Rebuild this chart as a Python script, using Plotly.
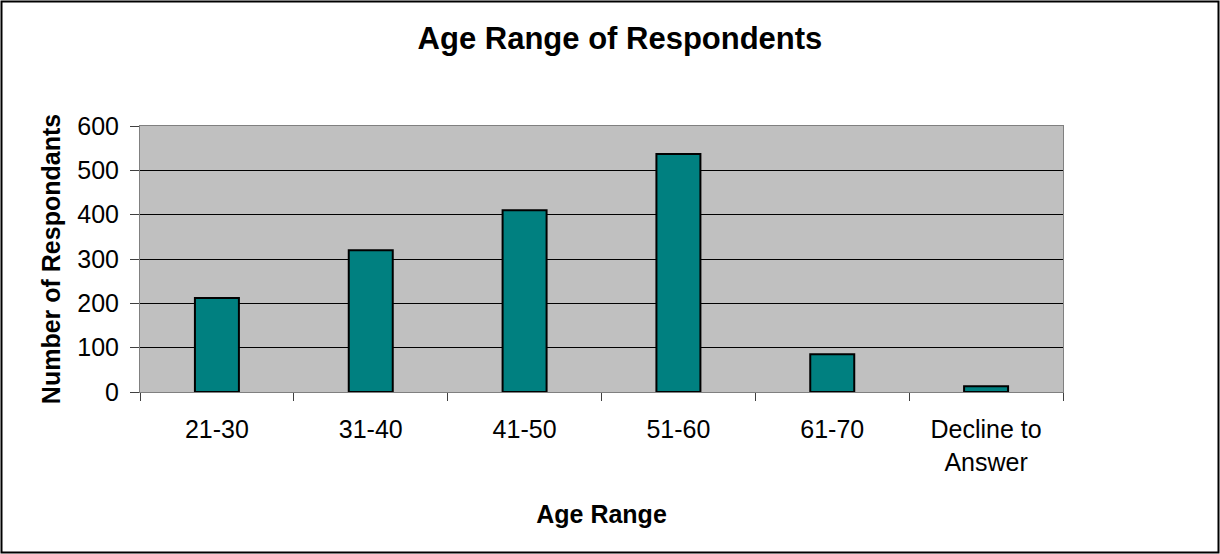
import plotly.graph_objects as go

categories = ["21-30", "31-40", "41-50", "51-60", "61-70", "Decline to<br>Answer"]
respondents = [212, 320, 410, 537, 85, 13]
y_ticks = [0, 100, 200, 300, 400, 500, 600]

W, H = 1220, 554
ML, MR, MT, MB = 140, 157, 126, 162
FONT = "Liberation Sans, Arial, sans-serif"

fig = go.Figure(go.Bar(
    x=categories, y=respondents,
    marker=dict(color="#008080", line=dict(color="#000000", width=2)),
))

pw = W - ML - MR
ph = H - MT - MB
fig.add_shape(type="rect", xref="paper", yref="paper",
              x0=(1.5 - ML) / pw, x1=(W - 1.5 - ML) / pw,
              y0=-(H - 1.5 - MT - ph) / ph, y1=1 + (MT - 1.5) / ph,
              line=dict(color="#000000", width=2), layer="below")

fig.update_layout(
    width=W, height=H,
    margin=dict(l=ML, r=MR, t=MT, b=MB, pad=0),
    paper_bgcolor="#FFFFFF", plot_bgcolor="#C0C0C0",
    font=dict(family=FONT, size=25, color="#000000"),
    showlegend=False,
    bargap=0.714,
    title=dict(text="<b>Age Range of Respondents</b>", font=dict(size=31, family=FONT, color="#000000"),
               x=620 / W, xanchor="center", xref="container",
               y=1 - 38 / H, yanchor="middle", yref="container"),
    xaxis=dict(
        type="category", tickson="boundaries",
        ticks="outside", ticklen=8, tickcolor="#404040", tickwidth=1,
        showline=True, linecolor="#808080", linewidth=1, mirror=True,
        showgrid=False, tickfont=dict(size=25), ticklabelstandoff=15,
        title=dict(text="<b>Age Range</b>", font=dict(size=25), standoff=30),
    ),
    yaxis=dict(
        range=[0, 600], tickvals=y_ticks,
        ticks="outside", ticklen=9, tickcolor="#404040", tickwidth=1,
        showline=True, linecolor="#808080", linewidth=1, mirror=True,
        showgrid=True, gridcolor="#000000", gridwidth=1,
        zeroline=False, tickfont=dict(size=25), ticklabelstandoff=6,
        title=dict(text="<b>Number of Respondants</b>", font=dict(size=25), standoff=9),
    ),
)

fig.write_html("out.html", config={"displayModeBar": False},
               post_script="document.body.style.margin='0';document.body.style.overflow='hidden';")
